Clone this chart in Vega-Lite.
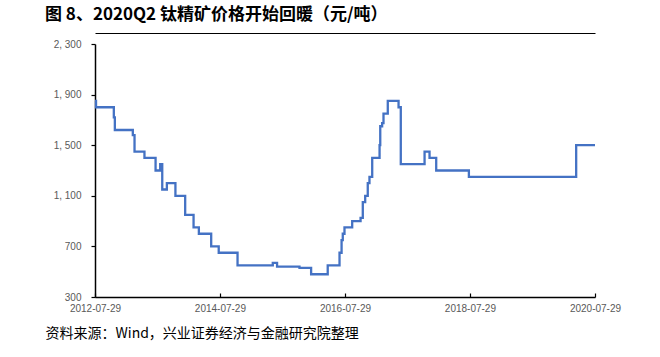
{
  "$schema": "https://vega.github.io/schema/vega-lite/v6.json",
  "width": 500,
  "height": 253,
  "autosize": "none",
  "padding": {"left": 95, "top": 44, "right": 64, "bottom": 60},
  "background": "white",
  "title": {
    "text": "图 8、2020Q2 钛精矿价格开始回暖（元/吨）",
    "anchor": "start",
    "frame": "group",
    "dx": -50,
    "offset": 9,
    "font": "Noto Sans CJK SC",
    "fontSize": 17,
    "fontWeight": "bold",
    "color": "#000000"
  },
  "config": {"view": {"stroke": null}},
  "data": {
    "values": [
      {"date": "2012-07-29", "price": 1850},
      {"date": "2012-08-04", "price": 1800},
      {"date": "2012-11-16", "price": 1720},
      {"date": "2012-11-22", "price": 1620},
      {"date": "2013-03-07", "price": 1580},
      {"date": "2013-03-17", "price": 1450},
      {"date": "2013-05-14", "price": 1400},
      {"date": "2013-07-18", "price": 1300},
      {"date": "2013-08-14", "price": 1350},
      {"date": "2013-08-26", "price": 1150},
      {"date": "2013-09-22", "price": 1200},
      {"date": "2013-11-11", "price": 1100},
      {"date": "2014-01-07", "price": 950},
      {"date": "2014-02-25", "price": 850},
      {"date": "2014-03-28", "price": 800},
      {"date": "2014-06-08", "price": 700},
      {"date": "2014-07-22", "price": 650},
      {"date": "2014-11-09", "price": 550},
      {"date": "2015-06-03", "price": 570},
      {"date": "2015-06-28", "price": 540},
      {"date": "2015-11-06", "price": 530},
      {"date": "2016-01-13", "price": 480},
      {"date": "2016-04-19", "price": 550},
      {"date": "2016-06-27", "price": 650},
      {"date": "2016-07-09", "price": 750},
      {"date": "2016-07-16", "price": 800},
      {"date": "2016-07-26", "price": 850},
      {"date": "2016-09-09", "price": 900},
      {"date": "2016-10-28", "price": 925},
      {"date": "2016-11-10", "price": 1050},
      {"date": "2016-11-24", "price": 1100},
      {"date": "2016-12-09", "price": 1200},
      {"date": "2016-12-19", "price": 1250},
      {"date": "2017-01-04", "price": 1400},
      {"date": "2017-02-16", "price": 1500},
      {"date": "2017-02-20", "price": 1650},
      {"date": "2017-03-03", "price": 1675},
      {"date": "2017-03-11", "price": 1750},
      {"date": "2017-04-05", "price": 1850},
      {"date": "2017-06-07", "price": 1800},
      {"date": "2017-06-20", "price": 1350},
      {"date": "2017-11-06", "price": 1450},
      {"date": "2017-12-05", "price": 1400},
      {"date": "2018-01-13", "price": 1300},
      {"date": "2018-07-23", "price": 1250},
      {"date": "2020-04-10", "price": 1500},
      {"date": "2020-07-29", "price": 1500}
    ]
  },
  "layer": [
    {
      "mark": {"type": "line", "interpolate": "step-after", "color": "#4472C4", "strokeWidth": 2.3},
      "encoding": {
        "x": {
          "field": "date",
          "type": "temporal",
          "scale": {
            "type": "utc",
            "domain": [
              {"year": 2012, "month": 7, "date": 29, "utc": true},
              {"year": 2020, "month": 7, "date": 29, "utc": true}
            ]
          },
          "axis": {
            "values": [
              {"year": 2012, "month": 7, "date": 29, "utc": true},
              {"year": 2014, "month": 7, "date": 29, "utc": true},
              {"year": 2016, "month": 7, "date": 29, "utc": true},
              {"year": 2018, "month": 7, "date": 29, "utc": true},
              {"year": 2020, "month": 7, "date": 29, "utc": true}
            ],
            "labelExpr": "utcFormat(datum.value, '%Y-%m-%d')",
            "grid": false,
            "domainColor": "#000000",
            "domainWidth": 1.5,
            "tickColor": "#000000",
            "tickWidth": 1.2,
            "tickSize": -4,
            "labelPadding": 10,
            "labelFont": "Liberation Sans",
            "labelFontSize": 10,
            "labelColor": "#595959",
            "labelFlush": false,
            "labelOverlap": false,
            "title": "资料来源：Wind，兴业证券经济与金融研究院整理",
            "titleFont": "Noto Sans CJK SC",
            "titleFontSize": 14,
            "titleFontWeight": "normal",
            "titleColor": "#000000",
            "titleAlign": "left",
            "titleAnchor": "start",
            "titleBaseline": "middle",
            "titleX": -50,
            "titleY": 36
          }
        },
        "y": {
          "field": "price",
          "type": "quantitative",
          "scale": {"domain": [300, 2300], "nice": false, "zero": false},
          "axis": {
            "values": [300, 700, 1100, 1500, 1900, 2300],
            "labelExpr": "replace(format(datum.value, ','), ',', ', ')",
            "grid": false,
            "domainColor": "#000000",
            "domainWidth": 1.5,
            "tickColor": "#000000",
            "tickWidth": 1.2,
            "tickSize": 4,
            "labelPadding": 10,
            "labelFont": "Liberation Sans",
            "labelFontSize": 10,
            "labelColor": "#595959",
            "labelFlush": false,
            "labelOverlap": false,
            "title": null
          }
        }
      }
    },
    {
      "mark": {"type": "line", "interpolate": "step-after", "opacity": 0},
      "encoding": {
        "x": {
          "field": "date",
          "type": "temporal",
          "axis": {
            "orient": "top",
            "offset": 11,
            "labels": false,
            "ticks": false,
            "grid": false,
            "domainColor": "#000000",
            "domainWidth": 1,
            "title": null
          }
        },
        "y": {"field": "price", "type": "quantitative"}
      }
    }
  ],
  "resolve": {"axis": {"x": "independent"}}
}
